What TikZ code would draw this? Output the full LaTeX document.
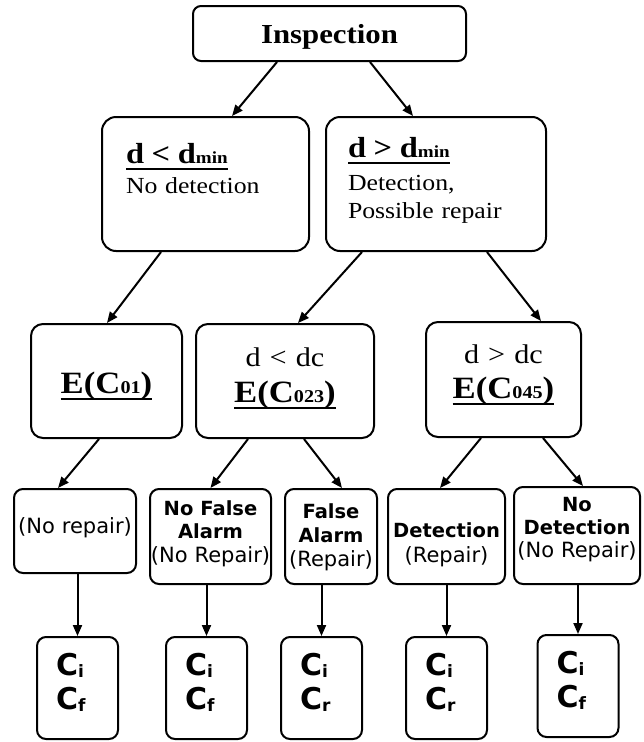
\documentclass[tikz,border=0pt]{standalone}
\usepackage{fontspec}
\setmainfont{Liberation Serif}[FakeStretch=1.12]
\newfontfamily\verdana{DejaVu Sans}
\usetikzlibrary{shapes,arrows.meta,positioning}

\newcommand\rayado[1]{\leavevmode\setbox0\hbox{#1}\rlap{\rule[-7pt]{\wd0}{2.5pt}}\box0}
\newcommand\subi[1]{\raisebox{-2pt}{\fontsize{17}{17}\selectfont #1}}
\newcommand\peq[1]{{\fontsize{18}{18}\selectfont #1}}

\begin{document}
\begin{tikzpicture}[x=1pt,y=-1pt]
 \tikzset{caja/.style={rectangle, draw, line width=2pt,
 		inner sep=0pt, rounded corners=12pt, align=center}, }
 \tikzset{rama/.style={caja, rounded corners=9pt,
 		font=\verdana\fontsize{21}{23.5}\selectfont}, }
 \tikzset{hoja/.style={caja, rounded corners=9pt, align=left,
 		inner xsep=19pt, text width=43pt, text height=38pt, text depth=64pt,
 		font=\verdana\bfseries\fontsize{30}{34}\selectfont}, }
 \tikzset{linea/.style={-{Triangle[length=11pt,width=9pt]}, line width=2pt},}
 \useasboundingbox (0,0) rectangle (644,742);

 \node[caja, rounded corners=8pt, font=\bfseries\fontsize{27.5}{27.5}\selectfont,
   text width=273pt, text height=37pt, text depth=18pt] (insp) at (329.5,33.5) {Inspection};

 \node[caja, rounded corners=14pt, align=left, inner xsep=24pt, text width=159pt,
   text height=46pt, text depth=88pt, font=\fontsize{23}{28}\selectfont] (l2a) at (205.5,184)
   {{\bfseries\fontsize{29}{29}\selectfont\rayado{d < d{\fontsize{17}{17}\selectfont min}}}\\[2pt]
    No detection};
 \node[caja, rounded corners=14pt, align=left, inner xsep=22pt, text width=176pt,
   text height=40pt, text depth=94pt, font=\fontsize{23}{28}\selectfont] (l2b) at (436,184)
   {{\bfseries\fontsize{29}{29}\selectfont\rayado{d > d{\fontsize{17}{17}\selectfont min}}}\\[5pt]
    Detection,\\ Possible repair};

 \node[caja, text width=151pt, text height=69pt, text depth=45pt,
   font=\bfseries\fontsize{31}{31}\selectfont] (l3a) at (106.5,381) {\rayado{E(C\peq{01})}};
 \node[caja, text width=178pt, text height=42pt, text depth=72pt,
   font=\fontsize{27}{36}\selectfont] (l3b) at (285,381)
   {d < dc\\ {\bfseries\fontsize{31}{36}\selectfont\rayado{E(C\peq{023})}}};
 \node[caja, text width=155pt, text height=41pt, text depth=74pt,
   font=\fontsize{27}{35}\selectfont] (l3c) at (503.5,379.5)
   {d > dc\\ {\bfseries\fontsize{31}{35}\selectfont\rayado{E(C\peq{045})}}};

 \node[rama, text width=122pt, text height=44pt, text depth=40pt] (l4a) at (75,531) {(No repair)};
 \node[rama, text width=121pt, text height=26pt, text depth=69pt] (l4b) at (210.5,536.5)
   {{\bfseries\fontsize{19.5}{23.5}\selectfont No False\\Alarm}\\(No Repair)};
 \node[rama, text width=92pt, text height=29pt, text depth=66pt,
   font=\verdana\fontsize{21}{24}\selectfont] (l4c) at (331,536.5)
   {{\bfseries\fontsize{19.5}{24}\selectfont False\\Alarm}\\(Repair)};
 \node[rama, text width=117pt, text height=48pt, text depth=47pt,
   font=\verdana\fontsize{21}{25}\selectfont] (l4d) at (446.5,536.5)
   {{\bfseries\fontsize{19.5}{25}\selectfont Detection}\\(Repair)};
 \node[rama, text width=126pt, text height=24pt, text depth=73pt,
   font=\verdana\fontsize{21}{23}\selectfont] (l4e) at (577,535.5)
   {{\bfseries\fontsize{19.5}{23}\selectfont No\\Detection}\\(No Repair)};

 \node[hoja] (l5a) at (77.5,688) {C\subi{i}\\C\subi{f}};
 \node[hoja] (l5b) at (206.5,688) {C\subi{i}\\C\subi{f}};
 \node[hoja] (l5c) at (321.5,688) {C\subi{i}\\C\subi{r}};
 \node[hoja] (l5d) at (446.5,688) {C\subi{i}\\C\subi{r}};
 \node[hoja] (l5e) at (578,686) {C\subi{i}\\C\subi{f}};

 \draw[linea] ([xshift=-52.5pt]insp.south) -- ([xshift=26.5pt]l2a.north);
 \draw[linea] ([xshift=40.5pt]insp.south) -- ([xshift=-23pt]l2b.north);
 \draw[linea] ([xshift=-44.5pt]l2a.south) -- ([xshift=0.5pt]l3a.north);
 \draw[linea] ([xshift=-74pt]l2b.south) -- ([xshift=13pt]l3b.north);
 \draw[linea] ([xshift=51pt]l2b.south) -- ([xshift=37.5pt]l3c.north);
 \foreach \a/\sa/\b/\sb in {l3a/-7.5/l4a/-17, l3b/-37/l4b/0, l3b/19/l4c/11,
   l3c/-22.5/l4d/-6.5, l3c/39.5/l4e/6}
 \draw[linea] ([xshift=\sa pt]\a.south) -- ([xshift=\sb pt]\b.north);
 \foreach \x/\y in {l4a/l5a,l4b/l5b,l4c/l5c,l4d/l5d,l4e/l5e}
 \draw[linea] (\x.south -| \y.north) -- (\y.north);
\end{tikzpicture}
\end{document}
